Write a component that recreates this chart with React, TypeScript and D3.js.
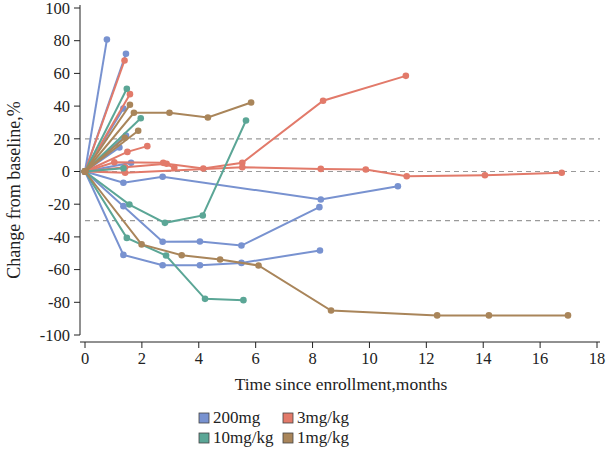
import * as d3 from 'd3';

type Pt = [number, number];

// months since enrollment, % change from baseline (each patient starts at 0,0)
const dose200mg: Pt[][] = [
  [[0, 0], [0.77, 80.7]],
  [[0, 0], [1.44, 72]],
  [[0, 0], [1.35, 38.5]],
  [[0, 0], [1.44, 22]],
  [[0, 0], [1.21, 14.7]],
  [[0, 0], [1.62, 5.3]],
  [[0, 0], [1.35, -6.9], [2.73, -3.2], [8.29, -17.1], [11.0, -9]],
  [[0, 0], [1.35, -21.2], [2.73, -43], [4.04, -42.8], [5.5, -45.3], [8.24, -21.8]],
  [[0, 0], [1.35, -51], [2.73, -57.3], [4.04, -57.3], [5.5, -55.9], [8.26, -48.3]],
];

const dose3mgkg: Pt[][] = [
  [[0, 0], [1.39, 67.9]],
  [[0, 0], [1.58, 47.3]],
  [[0, 0], [1.49, 12], [2.19, 15.5]],
  [[0, 0], [1.03, 5.7], [2.75, 5.3], [3.14, 2.3]],
  [[0, 0], [1.41, 2.6], [2.87, 4.7], [4.16, 1.8], [5.53, 5.3], [8.37, 43.3], [11.28, 58.5]],
  [[0, 0], [1.41, -0.8], [5.53, 2.6], [8.29, 1.6], [9.87, 1.2], [11.31, -2.9], [14.06, -2.3], [16.76, -0.8]],
];

const dose10mgkg: Pt[][] = [
  [[0, 0], [1.47, 50.6]],
  [[0, 0], [1.96, 32.6]],
  [[0, 0], [1.35, 2]],
  [[0, 0], [1.56, -20.2], [2.81, -31.4], [4.14, -26.9], [5.66, 31.2]],
  [[0, 0], [1.47, -40.6], [2.85, -51.4], [4.22, -77.9], [5.57, -78.7]],
];

const dose1mgkg: Pt[][] = [
  [[0, 0], [1.58, 40.8]],
  [[0, 0], [1.72, 35.9], [2.97, 35.9], [4.32, 33], [5.84, 42.2]],
  [[0, 0], [1.87, 24.9]],
  [[0, 0], [1.4, 20.6]],
  [[0, 0], [1.99, -44.6], [3.4, -51.2], [4.75, -53.8], [6.1, -57.5], [8.65, -85], [12.38, -88], [14.2, -88], [16.98, -88]],
];

const groups = [
  { name: '200mg', color: '#7892d0', data: dose200mg },
  { name: '3mg/kg', color: '#e27a6a', data: dose3mgkg },
  { name: '10mg/kg', color: '#5ba696', data: dose10mgkg },
  { name: '1mg/kg', color: '#a9855a', data: dose1mgkg },
];

const xTicks = [0, 2, 4, 6, 8, 10, 12, 14, 16, 18];
const yTicks = [100, 80, 60, 40, 20, 0, -20, -40, -60, -80, -100];
const refLines = [20, 0, -30];

export default function App() {
  const W = 606;
  const H = 451;
  const x = d3.scaleLinear().domain([0, 18]).range([85, 597]);
  const y = d3.scaleLinear().domain([-100, 100]).range([335, 8]);
  const line = d3.line<Pt>().x(d => x(d[0])).y(d => y(d[1]));
  const font = '"Liberation Serif", "Times New Roman", serif';
  const axisX = 80;
  const axisY = 342;

  return (
    <svg width={W} height={H} style={{ position: 'absolute', left: 0, top: 0, background: '#fff' }} fontFamily={font}>
      {refLines.map(v => (
        <line key={v} x1={x(0)} x2={600} y1={y(v)} y2={y(v)} stroke="#9a9a9a" strokeWidth={1.2} strokeDasharray="5,4" />
      ))}

      {/* y axis */}
      <line x1={axisX} x2={axisX} y1={5} y2={y(-100)} stroke="#222" strokeWidth={1} />
      {yTicks.map(t => (
        <g key={t}>
          <line x1={axisX - 6} x2={axisX} y1={y(t)} y2={y(t)} stroke="#222" />
          <text x={axisX - 10} y={y(t)} dy="0.35em" textAnchor="end" fontSize={16.5} fill="#222">{t}</text>
        </g>
      ))}

      {/* x axis */}
      <line x1={axisX} x2={600} y1={axisY} y2={axisY} stroke="#222" strokeWidth={1} />
      {xTicks.map(t => (
        <g key={t}>
          <line x1={x(t)} x2={x(t)} y1={axisY} y2={axisY + 6} stroke="#222" />
          <text x={x(t)} y={axisY + 22} textAnchor="middle" fontSize={16.5} fill="#222">{t}</text>
        </g>
      ))}

      <text x={341} y={390} textAnchor="middle" fontSize={17.5} fill="#222">Time since enrollment,months</text>
      <text transform={`translate(20,${190}) rotate(-90)`} textAnchor="middle" fontSize={18} fill="#222">Change from baseline,%</text>

      {groups.map(g => (
        <g key={g.name}>
          {g.data.map((s, i) => (
            <g key={i}>
              <path d={line(s) || ''} fill="none" stroke={g.color} strokeWidth={2} />
              {s.map((p, j) => (
                <circle key={j} cx={x(p[0])} cy={y(p[1])} r={3.3} fill={g.color} />
              ))}
            </g>
          ))}
        </g>
      ))}

      {/* legend */}
      {groups.map((g, i) => {
        const lx = i % 2 === 0 ? 199 : 283;
        const ly = i < 2 ? 413 : 433;
        return (
          <g key={g.name}>
            <rect x={lx} y={ly} width={10} height={10} fill={g.color} stroke="#444" strokeWidth={0.8} />
            <text x={lx + 14} y={ly + 10} fontSize={17} fill="#222">{g.name}</text>
          </g>
        );
      })}
    </svg>
  );
}
